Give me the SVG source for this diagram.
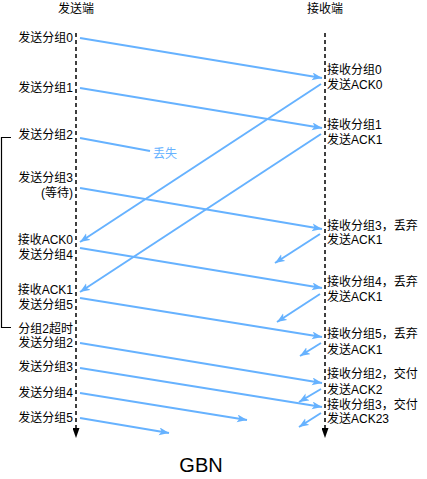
<svg xmlns="http://www.w3.org/2000/svg" width="427" height="479" viewBox="0 0 427 479">
<defs>
<marker id="arr" markerUnits="userSpaceOnUse" markerWidth="12" markerHeight="10" refX="10" refY="4" orient="auto">
<path d="M0,0 L10,4 L0,8 L2.5,4 z" fill="#66B2FF"/>
</marker>
<marker id="down" markerUnits="userSpaceOnUse" markerWidth="8" markerHeight="10" refX="3.5" refY="0" orient="0">
<path d="M0,0 L7,0 L3.5,10 z" fill="#000"/>
</marker>
<style>
text{font-family:"Liberation Sans","Noto Sans CJK SC",sans-serif;font-size:12px;fill:#000}
.l{text-anchor:end}
.c{text-anchor:middle}
.life{stroke:#000;stroke-width:1.5;stroke-dasharray:4 3;fill:none}
.m{stroke:#66B2FF;stroke-width:2;fill:none;marker-end:url(#arr)}
.n{stroke:#66B2FF;stroke-width:2;fill:none}
.blue{fill:#66B2FF}
</style>
</defs>
<g id="sender">
<text class="c" x="76" y="13">发送端</text>
<line class="life" x1="76" y1="33" x2="76" y2="428" marker-end="url(#down)"/>
</g>
<g id="receiver">
<text class="c" x="325" y="13">接收端</text>
<line class="life" x1="325" y1="33" x2="325" y2="428" marker-end="url(#down)"/>
</g>
<g id="sender-labels">
<text class="l" x="73" y="42">发送分组0</text>
<text class="l" x="73" y="92">发送分组1</text>
<text class="l" x="73" y="139">发送分组2</text>
<text class="l" x="73" y="182">发送分组3</text>
<text class="l" x="73" y="197">(等待)</text>
<text class="l" x="73" y="244">接收ACK0</text>
<text class="l" x="73" y="259">发送分组4</text>
<text class="l" x="73" y="294">接收ACK1</text>
<text class="l" x="73" y="309">发送分组5</text>
<text class="l" x="73" y="333">分组2超时</text>
<text class="l" x="73" y="347">发送分组2</text>
<text class="l" x="73" y="371">发送分组3</text>
<text class="l" x="73" y="397">发送分组4</text>
<text class="l" x="73" y="422">发送分组5</text>
</g>
<g id="receiver-labels">
<text x="327" y="74">接收分组0</text>
<text x="327" y="89">发送ACK0</text>
<text x="327" y="129">接收分组1</text>
<text x="327" y="144">发送ACK1</text>
<text x="327" y="230">接收分组3，丢弃</text>
<text x="327" y="244">发送ACK1</text>
<text x="327" y="286">接收分组4，丢弃</text>
<text x="327" y="301">发送ACK1</text>
<text x="327" y="338">接收分组5，丢弃</text>
<text x="327" y="354">发送ACK1</text>
<text x="327" y="378">接收分组2，交付</text>
<text x="327" y="394">发送ACK2</text>
<text x="327" y="409">接收分组3，交付</text>
<text x="327" y="423">发送ACK23</text>
</g>
<g id="timeout-bracket">
<path d="M11,137.5 H1.5 V327.5 H11" fill="none" stroke="#000" stroke-width="1.2"/>
</g>
<g id="connectors">
<line class="m" x1="80" y1="38" x2="322" y2="78"/>
<line class="m" x1="80" y1="88" x2="322" y2="128"/>
<line class="n" x1="80" y1="138" x2="150" y2="151"/>
<text class="blue" x="153" y="158">丢失</text>
<line class="m" x1="321" y1="84" x2="80" y2="242"/>
<line class="m" x1="321" y1="134" x2="80" y2="292"/>
<line class="m" x1="80" y1="188" x2="322" y2="229"/>
<line class="m" x1="320" y1="234" x2="275" y2="263"/>
<line class="m" x1="80" y1="248" x2="322" y2="288"/>
<line class="m" x1="320" y1="294" x2="277" y2="322"/>
<line class="m" x1="80" y1="298" x2="322" y2="337"/>
<line class="m" x1="321" y1="343" x2="300" y2="356"/>
<line class="m" x1="80" y1="343" x2="322" y2="383"/>
<line class="m" x1="321" y1="389" x2="299" y2="402"/>
<line class="m" x1="80" y1="368" x2="322" y2="407"/>
<line class="m" x1="321" y1="413" x2="299" y2="427"/>
<line class="m" x1="80" y1="393" x2="247" y2="420"/>
<line class="m" x1="80" y1="418" x2="169" y2="433"/>
</g>
<text class="c" x="201" y="472" style="font-size:20px">GBN</text>
</svg>
